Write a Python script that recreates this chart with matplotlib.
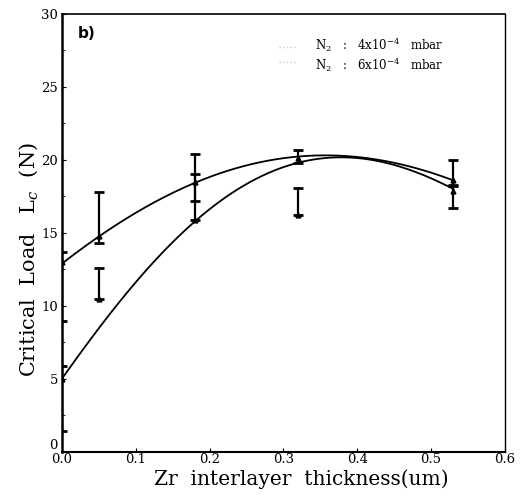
import numpy as np
import matplotlib.pyplot as plt

plt.rcParams['font.family'] = ['DejaVu Serif']
plt.rcParams['mathtext.fontset'] = 'dejavuserif'

# Zr interlayer thickness (um) of the measured samples
thickness = [0.0, 0.05, 0.18, 0.32, 0.53]

# N2 4x10^-4 mbar: mean critical load and error-bar range (N)
load_4 = [13.0, 14.8, 18.5, 20.1, 18.6]
low_4 = [9.0, 14.3, 17.2, 19.8, 18.3]
high_4 = [13.7, 17.8, 20.4, 20.7, 20.0]

# N2 6x10^-4 mbar
load_6 = [5.0, 10.5, 15.9, 16.2, 17.9]
low_6 = [1.4, 10.5, 15.9, 16.2, 16.7]
high_6 = [5.9, 12.6, 19.0, 18.1, 18.2]

# trend lines read along the thickness axis
trend_x = [0.0, 0.05, 0.1, 0.14, 0.18, 0.25, 0.32, 0.38, 0.45, 0.53]
trend_4 = [12.9, 14.8, 16.3, 17.5, 18.5, 19.6, 20.2, 20.3, 19.8, 18.6]
trend_6 = [5.0, 8.7, 11.2, 14.0, 16.0, 18.3, 19.7, 20.2, 19.7, 18.0]

legend_labels = [r'N$_2$   :   4x10$^{-4}$   mbar', r'N$_2$   :   6x10$^{-4}$   mbar']

fig = plt.figure(figsize=(5.22, 4.95), dpi=100)
ax = fig.add_axes([0.119, 0.087, 0.848, 0.885])

xs = np.linspace(0, 0.53, 200)
for ty in (trend_4, trend_6):
    coef = np.polyfit(trend_x, ty, 4)
    ax.plot(xs, np.polyval(coef, xs), color='black', lw=1.3)

for load, low, high in ((load_4, low_4, high_4), (load_6, low_6, high_6)):
    yerr = [np.subtract(load, low), np.subtract(high, load)]
    ax.errorbar(thickness, load, yerr=yerr, fmt='^', ms=3.5, color='black',
                ecolor='black', elinewidth=1.6, capsize=3.5, capthick=2)

ax.set_xlim(0, 0.6)
ax.set_ylim(0, 30)
ax.set_xticks(np.arange(0, 0.61, 0.1))
ax.set_xticklabels(['0.0', '0.1', '0.2', '0.3', '0.4', '0.5', '0.6'])
ax.set_yticks(range(0, 31, 5))
ax.set_yticks(np.arange(0, 30.1, 2.5), minor=True)
ax.tick_params(direction='in', length=3, labelsize=9.5, pad=1)
ax.tick_params(axis='y', pad=3)
ax.tick_params(which='minor', direction='in', length=2)
# the zero of the load axis sits just above the 0.0 of the thickness axis
ax.get_yticklabels()[0].set_va('bottom')
ax.spines['left'].set_linewidth(1.8)
ax.spines['bottom'].set_linewidth(1.5)
ax.spines['top'].set_linewidth(1.2)
ax.spines['right'].set_linewidth(1.0)

ax.set_xlabel('Zr  interlayer  thickness(um)', fontsize=14.5)
ax.xaxis.set_label_coords(0.54, -0.04)
ax.set_ylabel(r'Critical  Load   L$_c$  (N)', fontsize=15)
ax.yaxis.set_label_coords(-0.05, 0.44)
ax.text(0.035, 0.955, 'b)', transform=ax.transAxes, fontsize=11,
        fontweight='bold', family='DejaVu Sans', va='center')

# legend: faint dotted keys and the two pressure labels in one block
for i in range(len(legend_labels)):
    yk = 0.925 - i * 0.036
    ax.plot([0.49, 0.525], [yk, yk], transform=ax.transAxes,
            color='#c8c8c8', ls=':', lw=1)
ax.text(0.572, 0.907, '\n'.join(legend_labels), transform=ax.transAxes,
        fontsize=8.5, va='center', ha='left', linespacing=1.15)

fig.savefig('out.png', dpi=100)
